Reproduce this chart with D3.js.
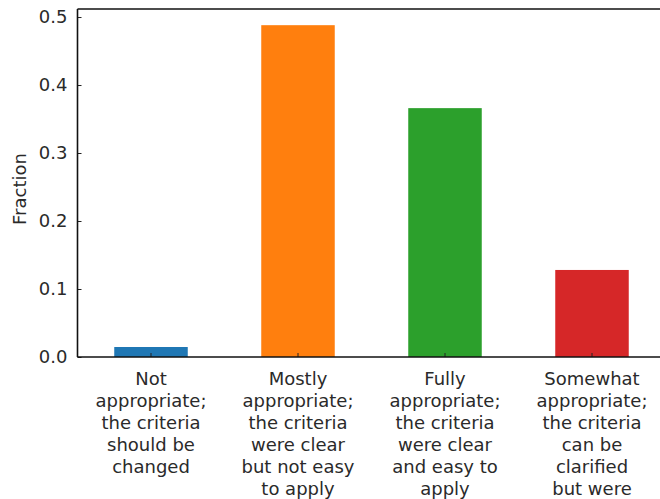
<!DOCTYPE html>
<html>
<head>
<meta charset="utf-8">
<script src="https://cdn.jsdelivr.net/npm/d3@7"></script>
<style>
  body { margin: 0; background: #fff; }
  svg { display: block; font-family: "DejaVu Sans", sans-serif; }
</style>
</head>
<body>
<svg id="chart"></svg>
<script>
// categories (each label split into lines), values, colours
var categories = ["not", "mostly", "fully", "somewhat"];
var labels = [
  ["Not", "appropriate;", "the criteria", "should be", "changed"],
  ["Mostly", "appropriate;", "the criteria", "were clear", "but not easy", "to apply"],
  ["Fully", "appropriate;", "the criteria", "were clear", "and easy to", "apply"],
  ["Somewhat", "appropriate;", "the criteria", "can be", "clarified", "but were"]
];
var fractions = [0.0147, 0.488, 0.366, 0.128];
var colors = ["#1f77b4", "#ff7f0e", "#2ca02c", "#d62728"];
var yTicks = [0.0, 0.1, 0.2, 0.3, 0.4, 0.5];

var svgWidth = 660, svgHeight = 499;
var plotLeft = 77.5, plotRight = 665.5, plotTop = 9, plotBottom = 357;

var svg = d3.select("#chart")
    .attr("width", svgWidth)
    .attr("height", svgHeight)

var x = d3.scaleBand().domain(categories).range([plotLeft, plotRight]).paddingInner(0.5).paddingOuter(0.25)
var y = d3.scaleLinear().domain([0, 0.5118]).range([plotBottom, plotTop])

// bars
svg.selectAll("rect.bar")
    .data(fractions)
    .enter()
    .append("rect")
    .attr("class", "bar")
    .attr("x", function(d, i) { return x(categories[i]) })
    .attr("width", x.bandwidth())
    .attr("y", function(d) { return y(d) })
    .attr("height", function(d) { return y(0) - y(d) })
    .style("fill", function(d, i) { return colors[i] })

// y axis, ticks pointing inward
var yAxis = d3.axisLeft(y).tickValues(yTicks).tickSize(-4).tickPadding(10).tickFormat(d3.format(".1f"))
var gy = svg.append("g").attr("transform", "translate(" + plotLeft + ",0)").call(yAxis)
gy.select(".domain").remove()
gy.selectAll(".tick line").attr("stroke", "#222").attr("stroke-width", 1)
gy.selectAll(".tick text").attr("font-size", 18).attr("fill", "#2a2a2a").attr("font-family", "DejaVu Sans")

// x axis, inward ticks and multi-line labels
var xAxis = d3.axisBottom(x).tickSize(-4).tickFormat("")
var gx = svg.append("g").attr("transform", "translate(0," + plotBottom + ")").call(xAxis)
gx.select(".domain").remove()
gx.selectAll(".tick line").attr("stroke", "#222").attr("stroke-width", 1)

svg.selectAll("text.xlab")
    .data(labels)
    .enter()
    .append("text")
    .attr("class", "xlab")
    .attr("text-anchor", "middle")
    .attr("font-size", 18)
    .attr("fill", "#2a2a2a")
    .each(function(lines, i) {
        var cx = x(categories[i]) + x.bandwidth() / 2
        d3.select(this).selectAll("tspan")
            .data(lines)
            .enter()
            .append("tspan")
            .attr("x", cx)
            .attr("y", function(d, j) { return plotBottom + 28 + j * 22 })
            .text(function(d) { return d })
    })

// spines
svg.append("line").attr("x1", plotLeft).attr("x2", plotLeft).attr("y1", plotTop).attr("y2", plotBottom).attr("stroke", "#111").attr("stroke-width", 1.6)
svg.append("line").attr("x1", plotLeft).attr("x2", plotRight).attr("y1", plotBottom).attr("y2", plotBottom).attr("stroke", "#111").attr("stroke-width", 1.6)
svg.append("line").attr("x1", plotLeft).attr("x2", plotRight).attr("y1", plotTop).attr("y2", plotTop).attr("stroke", "#111").attr("stroke-width", 1.6)

// y label
svg.append("text")
    .attr("transform", "translate(26," + ((plotTop + plotBottom) / 2 + 6) + ") rotate(-90)")
    .attr("text-anchor", "middle")
    .attr("font-size", 18)
    .attr("fill", "#2a2a2a")
    .text("Fraction")
</script>
</body>
</html>
